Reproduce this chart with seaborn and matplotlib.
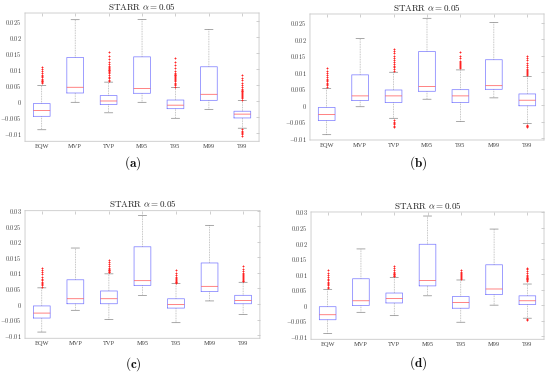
import pandas as pd
import seaborn as sns
import matplotlib.pyplot as plt
import matplotlib.ticker as ticker

strategies = ['EQW', 'MVP', 'TVP', 'M95', 'T95', 'M99', 'T99']
panel_tags = ['a', 'b', 'c', 'd']

# box summaries: lower whisker, q1, median, q3, upper whisker
a_lo = [-0.0089, -0.0003, -0.0036, -0.0003, -0.0053, -0.0025, -0.0084]
a_q1 = [-0.0047, 0.0026, -0.0010, 0.0025, -0.0023, 0.0003, -0.0052]
a_med = [-0.0029, 0.0044, 0.0001, 0.0040, -0.0012, 0.0022, -0.0040]
a_q3 = [-0.0007, 0.0137, 0.0018, 0.0139, 0.0004, 0.0108, -0.0031]
a_hi = [0.0050, 0.0255, 0.0060, 0.0256, 0.0043, 0.0225, 0.0002]

b_lo = [-0.0090, -0.0005, -0.0040, 0.0018, -0.0050, 0.0022, -0.0056]
b_q1 = [-0.0047, 0.0014, 0.0008, 0.0042, 0.0008, 0.0048, -0.0002]
b_med = [-0.0029, 0.0028, 0.0028, 0.0057, 0.0028, 0.0059, 0.0015]
b_q3 = [-0.0007, 0.0092, 0.0046, 0.0163, 0.0047, 0.0138, 0.0034]
b_hi = [0.0051, 0.0203, 0.0100, 0.0264, 0.0107, 0.0251, 0.0087]

c_lo = [-0.0090, -0.0020, -0.0050, 0.0028, -0.0060, 0.0010, -0.0033]
c_q1 = [-0.0045, 0.0001, 0.0001, 0.0060, -0.0013, 0.0040, 0.0001]
c_med = [-0.0029, 0.0017, 0.0017, 0.0075, -0.0002, 0.0057, 0.0011]
c_q3 = [-0.0006, 0.0078, 0.0042, 0.0184, 0.0017, 0.0132, 0.0028]
c_hi = [0.0052, 0.0180, 0.0097, 0.0285, 0.0066, 0.0253, 0.0070]

d_lo = [-0.0091, -0.0023, -0.0034, 0.0030, -0.0055, 0.0000, -0.0042]
d_q1 = [-0.0047, -0.0001, 0.0007, 0.0062, -0.0010, 0.0034, 0.0002]
d_med = [-0.0031, 0.0014, 0.0021, 0.0079, 0.0009, 0.0052, 0.0014]
d_q3 = [-0.0005, 0.0085, 0.0039, 0.0196, 0.0028, 0.0130, 0.0030]
d_hi = [0.0051, 0.0181, 0.0089, 0.0287, 0.0081, 0.0245, 0.0068]

# outliers (red crosses) per strategy
a_out = [
    [0.0056, 0.0059, 0.0062, 0.0065, 0.0068, 0.0071, 0.0075, 0.0079, 0.0083, 0.0088, 0.0094, 0.0101, 0.0108],
    [],
    [0.0063, 0.0067, 0.0072, 0.0077, 0.0082, 0.0087, 0.0091, 0.0094, 0.0097, 0.0099, 0.0101, 0.0103,
     0.0106, 0.0110, 0.0116, 0.0123, 0.0132, 0.0142, 0.0155],
    [],
    [0.0046, 0.0050, 0.0054, 0.0058, 0.0062, 0.0066, 0.0070, 0.0074, 0.0077, 0.0079, 0.0081, 0.0083,
     0.0086, 0.0090, 0.0096, 0.0103, 0.0112, 0.0123, 0.0135],
    [],
    [0.0005, 0.0009, 0.0013, 0.0017, 0.0021, 0.0024, 0.0027, 0.0029, 0.0031, 0.0033, 0.0036, 0.0040,
     0.0045, 0.0051, 0.0058, 0.0066, 0.0074, 0.0082,
     -0.0088, -0.0092, -0.0095, -0.0098, -0.0102, -0.0107],
]
b_out = [
    [0.0056, 0.0060, 0.0064, 0.0068, 0.0072, 0.0076, 0.0080, 0.0085, 0.0091, 0.0098, 0.0105, 0.0112],
    [],
    [0.0105, 0.0110, 0.0115, 0.0120, 0.0125, 0.0130, 0.0136, 0.0142, 0.0149, 0.0157, 0.0165, 0.0170,
     -0.0046, -0.0050, -0.0054, -0.0058, -0.0062, -0.0067],
    [],
    [0.0112, 0.0116, 0.0120, 0.0123, 0.0125, 0.0127, 0.0130, 0.0135, 0.0142, 0.0150, 0.0160],
    [],
    [0.0091, 0.0095, 0.0098, 0.0101, 0.0104, 0.0107, 0.0110, 0.0115, 0.0121, 0.0128, 0.0136, 0.0143, 0.0149,
     -0.0059, -0.0062, -0.0065, -0.0068],
]
c_out = [
    [0.0056, 0.0060, 0.0064, 0.0068, 0.0072, 0.0077, 0.0082, 0.0088, 0.0095, 0.0102, 0.0109, 0.0116],
    [],
    [0.0102, 0.0104, 0.0106, 0.0108, 0.0110, 0.0113, 0.0117, 0.0122, 0.0128, 0.0134, 0.0140],
    [],
    [0.0069, 0.0071, 0.0072, 0.0074, 0.0076, 0.0079, 0.0083, 0.0088, 0.0094, 0.0101, 0.0110],
    [],
    [0.0073, 0.0075, 0.0078, 0.0080, 0.0083, 0.0086, 0.0089, 0.0092, 0.0096, 0.0101, 0.0107, 0.0114, 0.0122],
]
d_out = [
    [0.0056, 0.0060, 0.0064, 0.0068, 0.0072, 0.0076, 0.0080, 0.0085, 0.0091, 0.0098, 0.0105, 0.0112],
    [],
    [0.0093, 0.0095, 0.0097, 0.0099, 0.0101, 0.0104, 0.0108, 0.0113, 0.0119, 0.0126],
    [],
    [0.0085, 0.0088, 0.0091, 0.0094, 0.0097, 0.0100, 0.0104, 0.0108, 0.0112],
    [],
    [0.0077, 0.0080, 0.0083, 0.0085, 0.0087, 0.0089, 0.0091, 0.0094, 0.0098, 0.0103, 0.0109, 0.0115, 0.0120,
     -0.0045, -0.0048],
]

panels = [
    (a_lo, a_q1, a_med, a_q3, a_hi, a_out),
    (b_lo, b_q1, b_med, b_q3, b_hi, b_out),
    (c_lo, c_q1, c_med, c_q3, c_hi, c_out),
    (d_lo, d_q1, d_med, d_q3, d_hi, d_out),
]
ylims = [(-0.0125, 0.0276), (-0.0106, 0.0277), (-0.011, 0.030), (-0.011, 0.030)]
axes_rects = [
    [0.0455, 0.6222, 0.4255, 0.343],
    [0.5636, 0.6257, 0.4255, 0.3369],
    [0.0455, 0.0955, 0.4270, 0.3412],
    [0.5655, 0.0928, 0.4236, 0.3404],
]
tag_pos = [(0.242, 0.564), (0.760, 0.564), (0.242, 0.027), (0.760, 0.030)]

sns.set_style('white')
plt.rcParams['mathtext.fontset'] = 'cm'
plt.rcParams['font.family'] = ['Liberation Serif', 'DejaVu Serif']
plt.rcParams['path.snap'] = False

edge = '#c8c8c8'
fig = plt.figure(figsize=(5.5, 3.74), dpi=100)

for i, (lo, q1, med, q3, hi, out) in enumerate(panels):
    ax = fig.add_axes(axes_rects[i])

    # outliers first, through seaborn's categorical axis
    rows = []
    for j, name in enumerate(strategies):
        for v in out[j]:
            rows.append({'strategy': name, 'value': v})
    out_df = pd.DataFrame(rows)
    sns.stripplot(data=out_df, x='strategy', y='value', order=strategies, jitter=False,
                  marker='+', color='#ff2020', size=2.0, linewidth=0.35, ax=ax, zorder=3)

    stats = []
    for j, name in enumerate(strategies):
        stats.append({'label': name, 'whislo': lo[j], 'q1': q1[j], 'med': med[j],
                      'q3': q3[j], 'whishi': hi[j], 'fliers': []})
    ax.bxp(stats, positions=range(len(strategies)), widths=0.5, capwidths=0.25,
           showfliers=False, patch_artist=False, manage_ticks=False,
           boxprops=dict(color='#8282ff', linewidth=0.55),
           medianprops=dict(color='#ff5050', linewidth=0.5),
           whiskerprops=dict(color='#8a8a8a', linewidth=0.4, linestyle=(0, (1.5, 1.5))),
           capprops=dict(color='#777777', linewidth=0.45))

    ax.set_xlim(-0.5, len(strategies) - 0.5)
    ax.set_ylim(*ylims[i])
    ax.set_xticks(range(len(strategies)))
    ax.set_xticklabels(strategies)
    ax.yaxis.set_major_locator(ticker.MultipleLocator(0.005))
    ax.yaxis.set_major_formatter(ticker.FuncFormatter(
        lambda v, p: '$0$' if abs(v) < 1e-9 else f'${v:g}$'))
    ax.set_xlabel('')
    ax.set_ylabel('')
    ax.set_title(r'$\mathrm{STARR}\ \alpha = 0.05$', fontsize=6.5, pad=2.5, color='#222222')
    ax.tick_params(direction='in', length=2, width=0.4, color='#aaaaaa',
                   top=True, right=True, labelsize=4.6, labelcolor='#444444', pad=2.5)
    ax.tick_params(axis='x', pad=2)
    for s in ax.spines.values():
        s.set_color(edge)
        s.set_linewidth(0.6)
    ax.grid(False)

    fig.text(tag_pos[i][0], tag_pos[i][1], r'$(\mathbf{' + panel_tags[i] + r'})$',
             ha='center', va='center', fontsize=9.5, color='#111111')

plt.savefig('out.png', dpi=100)
